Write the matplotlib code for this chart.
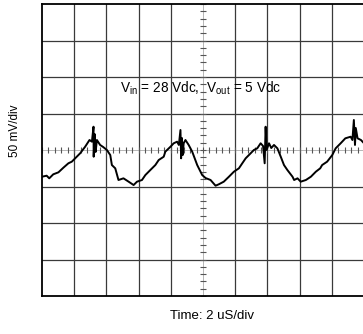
import matplotlib.pyplot as plt
import numpy as np

plt.rcParams['font.family'] = ['Liberation Sans', 'DejaVu Sans']
plt.rcParams['mathtext.fontset'] = 'custom'
plt.rcParams['mathtext.rm'] = 'Liberation Sans'

# scope trace: time in uS, ripple in mV
time_us = [0.00, 0.29, 0.45, 0.70, 1.02, 1.33, 1.64, 1.85, 2.06, 2.37,
           2.68, 2.95, 3.10, 3.20, 3.21, 3.27, 3.33, 3.41, 3.61, 3.80,
           4.03, 4.24, 4.34, 4.55, 4.75, 5.06, 5.38, 5.69, 5.90, 6.21,
           6.42, 6.73, 7.04, 7.25, 7.56, 7.66, 7.98, 8.18, 8.39, 8.50,
           8.60, 8.64, 8.69, 8.74, 8.80, 8.91, 9.11, 9.33, 9.64, 9.95,
           10.16, 10.47, 10.78, 10.98, 11.29, 11.61, 11.92, 12.23, 12.44, 12.65,
           12.96, 13.16, 13.37, 13.58, 13.73, 13.83, 13.89, 13.95, 14.10, 14.24,
           14.41, 14.62, 14.83, 15.03, 15.24, 15.56, 15.66, 15.87, 16.07, 16.39,
           16.70, 17.01, 17.28, 17.40, 17.71, 18.03, 18.24, 18.55, 18.84, 19.17,
           19.28, 19.37, 19.44, 19.49, 19.60, 19.81, 20.00]
ripple_mv = [-36.6, -35.2, -38.8, -33.3, -30.6, -24.2, -18.2, -16.0, -11.4, -4.5,
             4.5, 13.7, 11.4, 31.9, -9.2, 21.9, -2.7, 13.7, 6.9, 4.1,
             0.0, -6.9, -20.6, -25.1, -41.1, -38.8, -43.4, -48.0, -43.4, -41.1,
             -34.3, -27.4, -20.6, -13.7, -9.2, -2.3, 4.5, 9.2, 11.4, 6.9,
             27.4, -11.4, 16.4, -6.9, 9.2, 13.7, 6.9, -2.3, -20.6, -34.3,
             -38.4, -41.1, -48.9, -47.0, -43.4, -36.6, -29.7, -25.1, -18.2, -11.4,
             -4.5, 0.0, 2.3, 9.2, 5.5, -18.2, 31.9, 0.0, 9.2, 2.7,
             6.9, 2.3, -9.2, -20.6, -27.4, -36.6, -41.1, -38.8, -43.4, -41.1,
             -36.6, -29.7, -25.1, -20.6, -16.0, -6.9, 2.3, 9.2, 16.0, 18.2,
             13.7, 41.1, 6.9, 30.1, 16.0, 13.7, 9.2]

t_div = 2.0    # uS per division
v_div = 50.0   # mV per division

fig = plt.figure(figsize=(3.63, 3.34), dpi=100)
ax = fig.add_axes([42 / 363, 38 / 334, 322 / 363, 292 / 334])
ax.set_xlim(0, 10 * t_div)
ax.set_ylim(-4 * v_div, 4 * v_div)

# graticule
for x in np.arange(1, 10) * t_div:
    if x != 5 * t_div:
        ax.axvline(x, color='#3a3a3a', lw=0.9)
for y in np.arange(-3, 4) * v_div:
    if y != 0:
        ax.axhline(y, color='#3a3a3a', lw=0.9)
ax.axhline(0, color='#9a9a9a', lw=0.5)
ax.axvline(5 * t_div, color='#9a9a9a', lw=0.5)
xt = np.arange(0, 50.5) * t_div / 5
yt = np.arange(-20, 20.5) * v_div / 5
ax.plot(xt, np.zeros_like(xt), ls='none', marker='|', ms=4, mew=0.8, color='#555555')
ax.plot(np.full_like(yt, 5 * t_div), yt, ls='none', marker='_', ms=4, mew=0.8, color='#555555')

ax.plot(time_us, ripple_mv, color='black', lw=1.4, solid_joinstyle='round')

for s in ['left', 'bottom', 'top']:
    ax.spines[s].set_linewidth(1.3)
    ax.spines[s].set_color('black')
ax.spines['right'].set_visible(False)
ax.set_xticks([])
ax.set_yticks([])

ax.text(0.242, 0.71, r'V$_{\mathrm{in}}$ = 28 Vdc,  V$_{\mathrm{out}}$ = 5 Vdc',
        transform=ax.transAxes, fontsize=9.8, va='center', ha='left')
fig.text(212 / 363, 1 - 316 / 334, 'Time: 2 uS/div', fontsize=9.5, ha='center', va='center')
fig.text(15 / 363, 1 - 131 / 334, '50 mV/div', fontsize=8.5, ha='center', va='center', rotation=90)

fig.savefig('out.png', dpi=100, facecolor='white')
